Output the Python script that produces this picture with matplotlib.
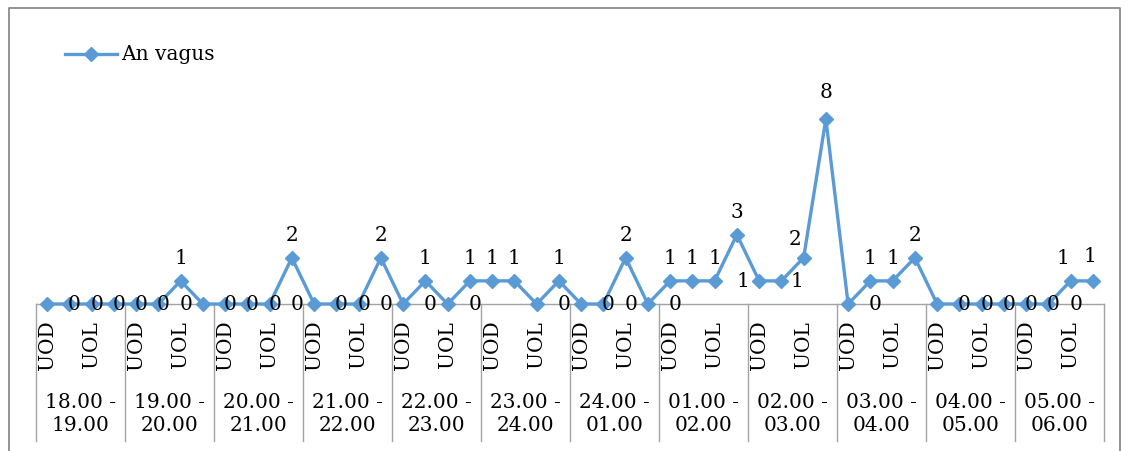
import matplotlib
matplotlib.use("Agg")
import matplotlib.pyplot as plt
from matplotlib.lines import Line2D

# Hourly observation windows, each split into UOD / UOL collections
hour_ranges = ["18.00 - 19.00", "19.00 - 20.00", "20.00 - 21.00", "21.00 - 22.00",
               "22.00 - 23.00", "23.00 - 24.00", "24.00 - 01.00", "01.00 - 02.00",
               "02.00 - 03.00", "03.00 - 04.00", "04.00 - 05.00", "05.00 - 06.00"]
sub_labels = ["UOD", "", "UOL", ""]
series_name = "An vagus"
an_vagus = [0, 0, 0, 0,   0, 0, 1, 0,   0, 0, 0, 2,   0, 0, 0, 2,
            0, 1, 0, 1,   1, 1, 0, 1,   0, 0, 2, 0,   1, 1, 1, 3,
            1, 1, 2, 8,   0, 1, 1, 2,   0, 0, 0, 0,   0, 0, 1, 1]
# points that carry a "0" label on the baseline
zero_label_points = [1, 2, 3, 4, 5, 6, 8, 9, 10, 11, 13, 14, 15, 17, 19, 23,
                     25, 26, 28, 37, 41, 42, 43, 44, 45, 46]

W, H = 1126, 452
BLUE = "#5B9BD5"
AXIS_GREY = "#A3A3A3"
BORDER_GREY = "#8A8A8A"
FONT = "DejaVu Serif"
FS = 14.5

plt.rcParams["font.family"] = [FONT, "DejaVu Sans"]

fig = plt.figure(figsize=(W / 100, H / 100), dpi=100)


def fx(px):
    return px / W


def fy(py):
    return 1 - py / H


# chart area border (top, left, right)
fig.add_artist(Line2D([fx(9), fx(9), fx(1120), fx(1120)],
                      [fy(460), fy(9), fy(9), fy(460)], transform=fig.transFigure,
                      color=BORDER_GREY, linewidth=1.3))

left_px, right_px = 36, 1104
top_px, base_px = 73.75, 305
ax = fig.add_axes([fx(left_px), fy(base_px),
                   (right_px - left_px) / W, (base_px - top_px) / H])

n = len(an_vagus)
xs = list(range(n))
ax.set_xlim(-0.5, n - 0.5)
ax.set_ylim(0, 10)
ax.patch.set_visible(False)
for side in ("left", "top", "right"):
    ax.spines[side].set_visible(False)
ax.spines["bottom"].set_color(AXIS_GREY)
ax.spines["bottom"].set_linewidth(1.0)
ax.set_xticks([])
ax.set_yticks([])

ax.plot(xs, an_vagus, color=BLUE, linewidth=2.4, marker="D", markersize=7,
        markerfacecolor=BLUE, markeredgecolor=BLUE, zorder=3, clip_on=False)

# value labels for the series
label_offsets = {32: (-16, 0), 33: (16, 0), 34: (-9, 19), 46: (-8, 23), 47: (-3, 25), 35: (0, 27)}
for i, v in enumerate(an_vagus):
    if v == 0:
        continue
    dx, dy = label_offsets.get(i, (0, 23))
    ax.annotate(str(v), xy=(i, v), xytext=(dx, dy), textcoords="offset pixels",
                ha="center", va="center", fontsize=FS, color="black", zorder=5,
                annotation_clip=False)
for i in zero_label_points:
    ax.annotate("0", xy=(i, 0), xytext=(5, 0), textcoords="offset pixels",
                ha="center", va="center", fontsize=FS, color="black", zorder=5,
                annotation_clip=False)

# multi-level category axis
n_groups = len(hour_ranges)
per_group = len(sub_labels)
xaxis_tf = ax.get_xaxis_transform()
drop = (442 - base_px) / (base_px - top_px)
for g in range(n_groups + 1):
    xb = g * per_group - 0.5
    ax.add_line(Line2D([xb, xb], [0, -drop], transform=xaxis_tf,
                       color=AXIS_GREY, linewidth=1.0, clip_on=False))
for g, hr in enumerate(hour_ranges):
    for k, s in enumerate(sub_labels):
        if s:
            ax.annotate(s, xy=(g * per_group + k, 0), xycoords=("data", "axes fraction"),
                        xytext=(0, -40), textcoords="offset pixels",
                        ha="center", va="center", rotation=90, fontsize=FS)
    start, end = hr.split(" - ")
    ax.annotate(f"{start} -\n{end}", xy=(g * per_group + (per_group - 1) / 2, 0),
                xycoords=("data", "axes fraction"), xytext=(0, -109),
                textcoords="offset pixels", ha="center", va="center",
                fontsize=FS, linespacing=1.3)

# legend
fig.add_artist(Line2D([fx(65), fx(117)], [fy(55), fy(55)], transform=fig.transFigure,
                      color=BLUE, linewidth=2.4))
fig.add_artist(Line2D([fx(91)], [fy(55)], transform=fig.transFigure, color=BLUE,
                      marker="D", markersize=7, linestyle="none"))
fig.text(fx(121), fy(55), series_name, ha="left", va="center", fontsize=FS)

fig.savefig("out.png", dpi=100)
